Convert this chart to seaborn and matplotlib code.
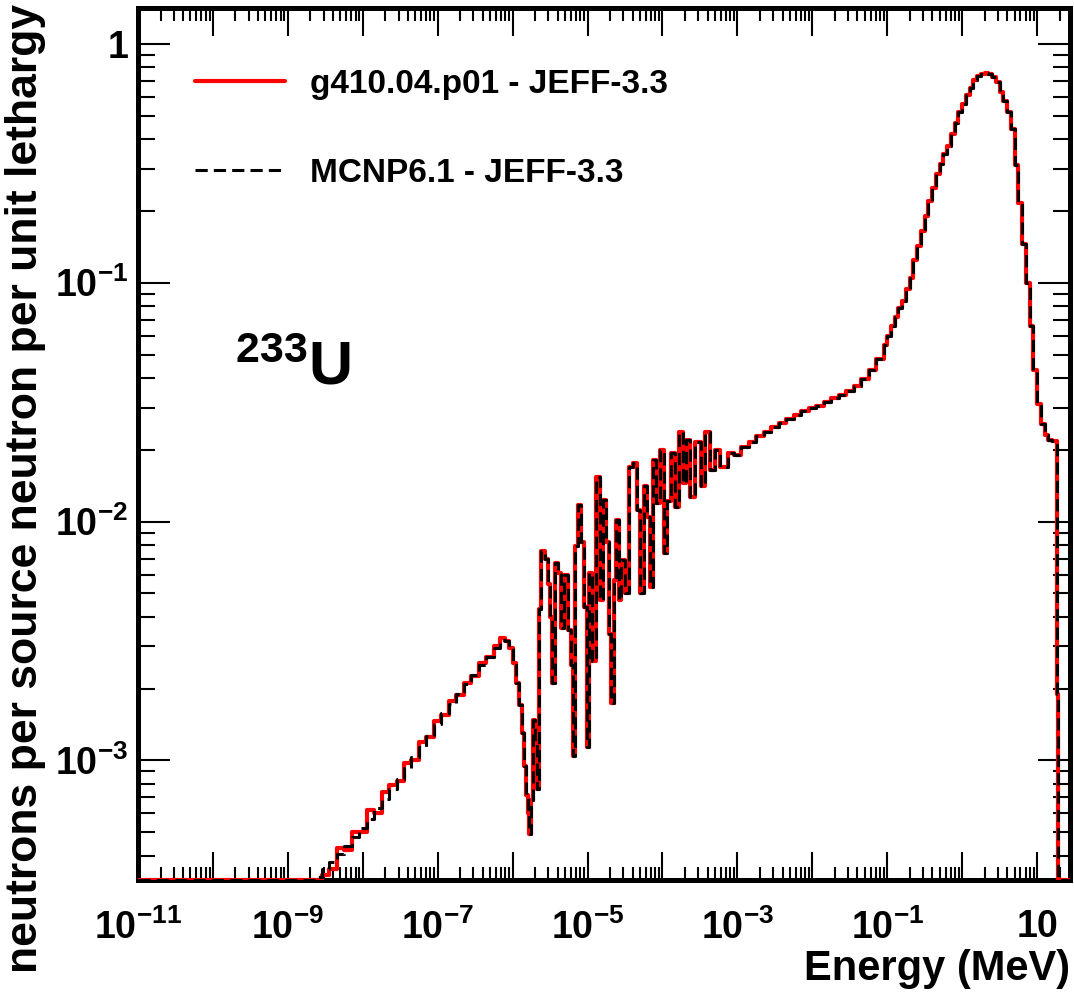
import numpy as np
import matplotlib
matplotlib.use("Agg")
import matplotlib.pyplot as plt
import matplotlib.ticker as mticker
import seaborn as sns

# Histogram bin left edges as log10(E / MeV), and flux per unit lethargy.
# Thermal peak: the two codes differ a little (statistical noise in g4 run)
thermal_log_e = [-11.00, -8.75, -8.65, -8.55, -8.45, -8.35, -8.25, -8.15, -8.05, -7.95,
                 -7.85, -7.75, -7.65, -7.55, -7.45, -7.35, -7.25, -7.15, -7.05, -6.95,
                 -6.85, -6.75, -6.65, -6.55, -6.45, -6.35, -6.25, -6.17, -6.10, -6.05,
                 -6.00, -5.96, -5.92, -5.88, -5.85, -5.82]
thermal_g4 = [1e-5, 2.9e-4, 3.0e-4, 3.3e-4, 3.5e-4, 4.3e-4, 4.2e-4, 5.0e-4, 5.0e-4, 6.2e-4,
              6.0e-4, 7.4e-4, 7.9e-4, 8.2e-4, 9.8e-4, 1.0e-3, 1.2e-3, 1.25e-3, 1.47e-3, 1.55e-3,
              1.78e-3, 1.88e-3, 2.12e-3, 2.25e-3, 2.55e-3, 2.7e-3, 3.0e-3, 3.25e-3, 3.15e-3, 2.95e-3,
              2.55e-3, 2.1e-3, 1.7e-3, 1.3e-3, 9.5e-4, 7.2e-4]
thermal_mcnp = [1e-5, 2.9e-4, 3.25e-4, 3.5e-4, 3.75e-4, 4.05e-4, 4.4e-4, 4.8e-4, 5.2e-4, 5.7e-4,
                6.3e-4, 6.9e-4, 7.6e-4, 8.4e-4, 9.3e-4, 1.03e-3, 1.14e-3, 1.27e-3, 1.42e-3, 1.58e-3,
                1.73e-3, 1.9e-3, 2.08e-3, 2.28e-3, 2.5e-3, 2.72e-3, 2.95e-3, 3.2e-3, 3.15e-3, 2.95e-3,
                2.55e-3, 2.1e-3, 1.7e-3, 1.3e-3, 9.5e-4, 7.2e-4]

# Resolved resonance region (same for both codes)
resonance_log_e = [-5.80, -5.78, -5.75, -5.73, -5.70, -5.68, -5.65, -5.62, -5.57, -5.53,
                   -5.50, -5.47, -5.44, -5.40, -5.36, -5.31, -5.26, -5.22, -5.20, -5.17,
                   -5.13, -5.09, -5.05, -5.01, -4.98, -4.94, -4.89, -4.83, -4.80, -4.76,
                   -4.72, -4.69, -4.65, -4.62, -4.58, -4.55, -4.50, -4.45, -4.40, -4.34,
                   -4.30, -4.25, -4.21, -4.16, -4.12, -4.08, -4.03, -3.98, -3.94, -3.89,
                   -3.83, -3.78, -3.73, -3.68, -3.63, -3.56, -3.49, -3.43, -3.37, -3.30,
                   -3.23, -3.12, -3.04]
resonance_flux = [6.0e-4, 4.9e-4, 6.8e-4, 1.48e-3, 1.2e-3, 7.6e-4, 4.3e-3, 7.5e-3, 7.0e-3, 5.5e-3,
                  4.0e-3, 2.1e-3, 6.7e-3, 6.1e-3, 3.6e-3, 6.0e-3, 3.5e-3, 2.5e-3, 1.04e-3, 7.9e-3,
                  1.17e-2, 8.2e-3, 4.4e-3, 1.14e-3, 6.1e-3, 2.6e-3, 1.54e-2, 4.7e-3, 1.23e-2, 8.2e-3,
                  3.4e-3, 1.74e-3, 5.7e-3, 1.02e-2, 4.7e-3, 6.9e-3, 5.0e-3, 1.70e-2, 1.76e-2, 1.12e-2,
                  5.0e-3, 1.41e-2, 1.05e-2, 5.3e-3, 1.81e-2, 1.2e-2, 2.0e-2, 7.4e-3, 1.22e-2, 1.94e-2,
                  1.15e-2, 2.36e-2, 1.45e-2, 2.2e-2, 1.27e-2, 2.15e-2, 1.41e-2, 2.38e-2, 1.65e-2, 2.0e-2,
                  1.7e-2, 1.94e-2, 1.9e-2]

# Fast region up to the 20 MeV cut-off (same for both codes)
fast_log_e = [-2.95, -2.85, -2.75, -2.65, -2.55, -2.45, -2.35, -2.25, -2.15, -2.05,
              -1.95, -1.85, -1.75, -1.65, -1.55, -1.45, -1.35, -1.25, -1.15, -1.05,
              -1.00, -0.95, -0.90, -0.85, -0.80, -0.75, -0.70, -0.65, -0.60, -0.55,
              -0.50, -0.45, -0.40, -0.35, -0.30, -0.25, -0.20, -0.15, -0.10, -0.05,
              0.00, 0.05, 0.10, 0.15, 0.20, 0.25, 0.30, 0.35, 0.40, 0.45,
              0.50, 0.55, 0.60, 0.65, 0.70, 0.75, 0.80, 0.85, 0.90, 0.95,
              1.00, 1.05, 1.10, 1.15, 1.20, 1.27, 1.28, 1.45]
fast_flux = [0.0205, 0.0215, 0.0228, 0.0238, 0.0248, 0.0258, 0.0268, 0.0279, 0.029, 0.0298,
             0.0306, 0.0316, 0.0328, 0.034, 0.0352, 0.037, 0.0395, 0.043, 0.048, 0.055,
             0.060, 0.066, 0.072, 0.078, 0.084, 0.094, 0.105, 0.125, 0.143, 0.165,
             0.19, 0.22, 0.25, 0.285, 0.315, 0.345, 0.375, 0.42, 0.465, 0.52,
             0.56, 0.61, 0.65, 0.705, 0.73, 0.75, 0.755, 0.745, 0.725, 0.69,
             0.63, 0.575, 0.52, 0.44, 0.31, 0.215, 0.145, 0.10, 0.066, 0.043,
             0.031, 0.0255, 0.023, 0.022, 0.0218, 1.9e-3, 1e-6, 1e-6]

labels = ["g410.04.p01 - JEFF-3.3", "MCNP6.1 - JEFF-3.3"]
x_min, x_max = 1e-11, 27.5
y_min, y_max = 3.16e-4, 1.41


def xlog_label(v, pos):
    exp = int(round(np.log10(v)))
    if exp % 2 == 0:
        return ""
    if exp == 1:
        return "10"
    return r"$10^{%d}$" % exp


def ylog_label(v, pos):
    exp = int(round(np.log10(v)))
    if exp == 0:
        return "1"
    return r"$10^{%d}$" % exp


sns.set_style("ticks")
plt.rcParams["font.family"] = ["Liberation Sans", "DejaVu Sans"]
plt.rcParams["font.weight"] = "bold"
plt.rcParams["text.color"] = "black"
plt.rcParams["axes.labelcolor"] = "black"
plt.rcParams["xtick.color"] = "black"
plt.rcParams["ytick.color"] = "black"
plt.rcParams["mathtext.fontset"] = "custom"
plt.rcParams["mathtext.rm"] = "Liberation Sans:bold"
plt.rcParams["mathtext.it"] = "Liberation Sans:bold"
plt.rcParams["mathtext.bf"] = "Liberation Sans:bold"
plt.rcParams["mathtext.sf"] = "Liberation Sans:bold"

fig = plt.figure(figsize=(10.74, 9.93), dpi=100)
ax = fig.add_axes([0.1285, 0.1138, 0.8678, 0.878])

log_e = np.concatenate([thermal_log_e, resonance_log_e, fast_log_e])
energy = 10.0 ** log_e
g4 = np.clip(np.concatenate([thermal_g4, resonance_flux, fast_flux]), y_min, None)
mcnp = np.clip(np.concatenate([thermal_mcnp, resonance_flux, fast_flux]), y_min, None)

sns.lineplot(x=energy, y=g4, ax=ax, color="red", lw=3, drawstyle="steps-post",
             estimator=None, sort=False, label=labels[0], zorder=3)
sns.lineplot(x=energy, y=mcnp, ax=ax, color="black", lw=2.2, drawstyle="steps-post",
             estimator=None, sort=False, label=labels[1], zorder=4)
ax.lines[1].set_dashes((4, 2))

ax.set_xscale("log")
ax.set_yscale("log")
ax.set_xlim(x_min, x_max)
ax.set_ylim(y_min, y_max)

ax.xaxis.set_major_locator(mticker.LogLocator(base=10, numticks=40))
ax.xaxis.set_minor_locator(mticker.LogLocator(base=10, subs=np.arange(2, 10), numticks=400))
ax.yaxis.set_major_locator(mticker.LogLocator(base=10, numticks=40))
ax.yaxis.set_minor_locator(mticker.LogLocator(base=10, subs=np.arange(2, 10), numticks=400))
ax.xaxis.set_major_formatter(mticker.FuncFormatter(xlog_label))
ax.xaxis.set_minor_formatter(mticker.NullFormatter())
ax.yaxis.set_major_formatter(mticker.FuncFormatter(ylog_label))
ax.yaxis.set_minor_formatter(mticker.NullFormatter())

ax.tick_params(which="both", direction="in", top=True, right=True, width=1.5,
               colors="black", labelsize=27)
ax.tick_params(axis="x", which="major", length=20, pad=21)
ax.tick_params(axis="x", which="minor", length=9.5)
ax.tick_params(axis="y", which="major", length=23, pad=7)
ax.tick_params(axis="y", which="minor", length=12)

for side in ax.spines.values():
    side.set_linewidth(3.6)
    side.set_color("black")

ax.set_xlabel("Energy (MeV)", fontsize=30, fontweight="bold", loc="right")
ax.xaxis.set_label_coords(1.0, -0.079)
ax.set_ylabel("neutrons per source neutron per unit lethargy", fontsize=32,
              fontweight="bold", loc="top")
ax.yaxis.set_label_coords(-0.099, 1.005)

ax.text(0.104, 0.568, r"$^{233}$U", transform=ax.transAxes, fontsize=44,
        fontweight="bold", ha="left", va="baseline")

ax.legend(loc="upper left", bbox_to_anchor=(195 / 1074, 1 - 69 / 993),
          bbox_transform=fig.transFigure, frameon=False,
          handlelength=2.7, handletextpad=0.75, labelspacing=1.73, borderpad=0,
          borderaxespad=0, prop={"weight": "bold", "size": 24})

fig.savefig("out.png", dpi=100)
